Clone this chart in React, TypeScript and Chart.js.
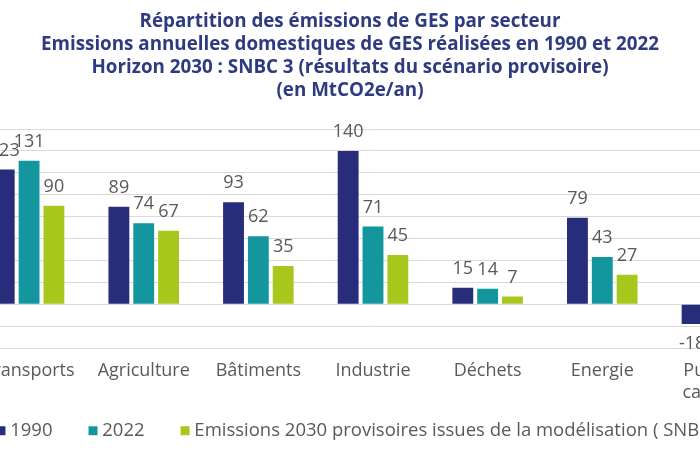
import React, { useEffect, useRef } from "react";
import { Chart, registerables } from "chart.js";

Chart.register(...registerables);

// ---- data ----
const categories: (string | string[])[] = [
  "Transports",
  "Agriculture",
  "Bâtiments",
  "Industrie",
  "Déchets",
  "Energie",
  ["Puits de", "carbone"],
];
const values1990 = [123, 89, 93, 140, 15, 79, -18];
const values2022 = [131, 74, 62, 71, 14, 43, -20];
const values2030 = [90, 67, 35, 45, 7, 27, -18];
const seriesLabels = [
  "1990",
  "2022",
  "Emissions 2030 provisoires issues de la modélisation ( SNBC 3 )",
];
const titleLines = [
  "Répartition des émissions de GES par secteur",
  "Emissions annuelles domestiques de GES réalisées en 1990 et 2022",
  "Horizon 2030 : SNBC 3 (résultats du scénario provisoire)",
  "(en MtCO2e/an)",
];
const yMin = -40;
const yMax = 160;
const yStep = 20;

// ---- style / layout ----
const FONT = "'Open Sans', 'Noto Sans', sans-serif";
const COLORS = ["#272d7a", "#14969e", "#a7c71c"];
const TEXT = "#595959";
const PLOT_LEFT = -28.3; // page x of plot area left
const PLOT_RIGHT = 774.3; // page x of plot area right
const TITLE_CENTER = 350;
const LEGEND_X1 = 1;
const LEGEND_FONT = 18.5;
const LEGEND_PAD = 40.5;
const LEGEND_BOX_W = 0.01;
const TITLE_SIZE = 18.8;

const valueLabels = {
  id: "valueLabels",
  afterDatasetsDraw(chart: any) {
    const ctx = chart.ctx;
    ctx.save();
    ctx.font = `18px ${FONT}`;
    ctx.fillStyle = TEXT;
    ctx.textAlign = "center";
    ctx.textBaseline = "middle";
    chart.data.datasets.forEach((ds: any, i: number) => {
      const meta = chart.getDatasetMeta(i);
      meta.data.forEach((bar: any, j: number) => {
        const v = ds.data[j];
        const y = v >= 0 ? bar.y - 19 : bar.y + 20;
        ctx.fillText(String(v), bar.x, y);
      });
    });
    ctx.restore();
  },
};

// let the two-line category label run below the x-axis box without being clipped
const unclipXLabels = {
  id: "unclipXLabels",
  afterLayout(chart: any) {
    const x = chart.scales.x;
    if (x) x.bottom = chart.height;
  },
};

export default function App() {
  const canvasRef = useRef<HTMLCanvasElement>(null);

  useEffect(() => {
    const canvas = canvasRef.current;
    if (!canvas) return;
    const mctx = document.createElement("canvas").getContext("2d")!;
    mctx.font = `${LEGEND_FONT}px ${FONT}`;
    let lineWidth = 0;
    seriesLabels.forEach((t) => {
      lineWidth += LEGEND_BOX_W + LEGEND_FONT / 2 + mctx.measureText(t).width + LEGEND_PAD;
    });
    const R = Math.max(PLOT_RIGHT, LEGEND_X1 + lineWidth);
    const Lf = 2 * TITLE_CENTER - R;
    const W = Math.round(R - Lf);
    const leftAxisW = PLOT_LEFT - Lf;
    const rightAxisW = R - PLOT_RIGHT;

    canvas.width = W;
    canvas.height = 450;
    canvas.style.width = W + "px";
    canvas.style.height = "450px";
    canvas.style.left = Lf + "px";

    const chart = new Chart(canvas, {
      type: "bar",
      data: {
        labels: categories,
        datasets: seriesLabels.map((label, i) => ({
          label,
          data: [values1990, values2022, values2030][i],
          backgroundColor: COLORS[i],
          borderWidth: 0,
          barPercentage: 0.84,
          categoryPercentage: 0.65,
        })),
      },
      options: {
        responsive: false,
        animation: false,
        devicePixelRatio: 1,
        layout: { padding: 0 },
        scales: {
          x: {
            grid: { display: false, drawTicks: false },
            border: { display: false },
            ticks: {
              color: TEXT,
              font: { family: FONT, size: 18, lineHeight: 1.2 },
              padding: 12,
              maxRotation: 0,
              autoSkip: false,
            },
            afterFit: (s: any) => {
              s.height = 33;
            },
          },
          y: {
            min: yMin,
            max: yMax,
            ticks: { stepSize: yStep, display: false },
            grid: { color: "#d9d9d9", lineWidth: 1, drawTicks: false },
            border: { display: false },
            afterFit: (s: any) => {
              s.width = leftAxisW;
            },
          },
          y2: {
            type: "linear",
            position: "right",
            display: true,
            min: yMin,
            max: yMax,
            grid: { display: false, drawTicks: false },
            ticks: { display: false },
            border: { display: false },
            afterFit: (s: any) => {
              s.width = rightAxisW;
            },
          },
        },
        plugins: {
          tooltip: { enabled: false },
          title: {
            display: true,
            text: titleLines,
            color: "#2e3b80",
            font: { family: FONT, size: TITLE_SIZE, weight: "bold", lineHeight: 23 / TITLE_SIZE },
            padding: { top: 10.5, bottom: 26.5 },
          },
          legend: {
            position: "bottom",
            align: "end",
            fullSize: true,
            labels: {
              usePointStyle: true,
              pointStyle: "rect",
              boxWidth: LEGEND_BOX_W,
              boxHeight: 9,
              padding: LEGEND_PAD,
              color: TEXT,
              font: { family: FONT, size: LEGEND_FONT },
            },
          },
        },
      },
      plugins: [valueLabels, unclipXLabels],
    } as any);
    return () => chart.destroy();
  }, []);

  return (
    <div
      style={{
        position: "fixed",
        left: 0,
        top: 0,
        width: 700,
        height: 450,
        overflow: "hidden",
        background: "#fff",
      }}
    >
      <canvas ref={canvasRef} style={{ position: "absolute", top: 0 }} />
    </div>
  );
}
